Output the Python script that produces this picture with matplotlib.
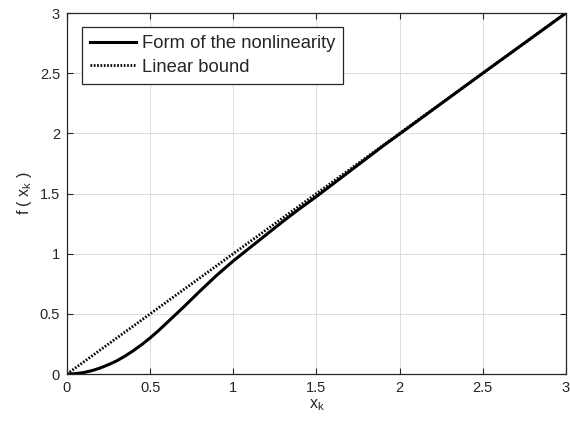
import numpy as np
import matplotlib
matplotlib.use("Agg")
import matplotlib.pyplot as plt

# values
x_k = [0.0, 0.05, 0.1, 0.15, 0.2, 0.25, 0.3, 0.35, 0.4, 0.45, 0.5, 0.55,
       0.6, 0.65, 0.7, 0.8, 0.9, 1.0, 1.1, 1.2, 1.3, 1.4, 1.5, 1.6, 1.7,
       1.8, 1.9, 2.0, 2.5, 3.0]
f_nonlin = [0.0, 0.003, 0.012, 0.028, 0.05, 0.078, 0.11, 0.15, 0.195, 0.245,
            0.30, 0.36, 0.425, 0.49, 0.555, 0.69, 0.82, 0.94, 1.05, 1.16,
            1.27, 1.375, 1.475, 1.58, 1.685, 1.79, 1.895, 1.995, 2.5, 3.0]
x_bound = [0.0, 3.0]
f_bound = [0.0, 3.0]

xticks = [0, 0.5, 1, 1.5, 2, 2.5, 3]
yticks = [0, 0.5, 1, 1.5, 2, 2.5, 3]
tick_labels = ["0", "0.5", "1", "1.5", "2", "2.5", "3"]

plt.rcParams["font.family"] = ["Liberation Sans", "DejaVu Sans"]
plt.rcParams["mathtext.fontset"] = "custom"
plt.rcParams["mathtext.rm"] = "Liberation Sans"

AX_COL = "#262626"

fig = plt.figure(figsize=(5.7, 4.3), dpi=100)
ax = fig.add_axes([0.1175, 0.1302, 0.8754, 0.8395])

ax.plot(x_k, f_nonlin, color="black", lw=2.2, label="Form of the nonlinearity")
ax.plot(x_bound, f_bound, color="black", lw=2.0, linestyle=(0, (0.6, 0.6)),
        label="Linear bound")

ax.set_xlim(0, 3)
ax.set_ylim(0, 3)
ax.set_xticks(xticks)
ax.set_xticklabels(tick_labels)
ax.set_yticks(yticks)
ax.set_yticklabels(tick_labels)
ax.tick_params(direction="in", top=True, right=True, length=4, width=0.8,
               colors=AX_COL, labelsize=10.5, pad=5)
for s in ax.spines.values():
    s.set_color(AX_COL)
    s.set_linewidth(0.9)
ax.grid(True, color="#dcdcdc", lw=0.7)
ax.set_axisbelow(True)

ax.set_xlabel(r"x$_\mathregular{k}$", fontsize=11.5, color=AX_COL, labelpad=2)
ax.set_ylabel(r"f ( x$_\mathregular{k}$ )", fontsize=11.5, color=AX_COL, labelpad=4)

leg = ax.legend(loc="upper left", bbox_to_anchor=(0.030, 0.961), borderaxespad=0,
                fontsize=13.2, fancybox=False, framealpha=1, edgecolor=AX_COL,
                handlelength=2.5, handletextpad=0.3, borderpad=0.45,
                labelspacing=0.35)
leg.get_frame().set_linewidth(0.9)
for t in leg.get_texts():
    t.set_color(AX_COL)

fig.savefig("out.png", dpi=100)
